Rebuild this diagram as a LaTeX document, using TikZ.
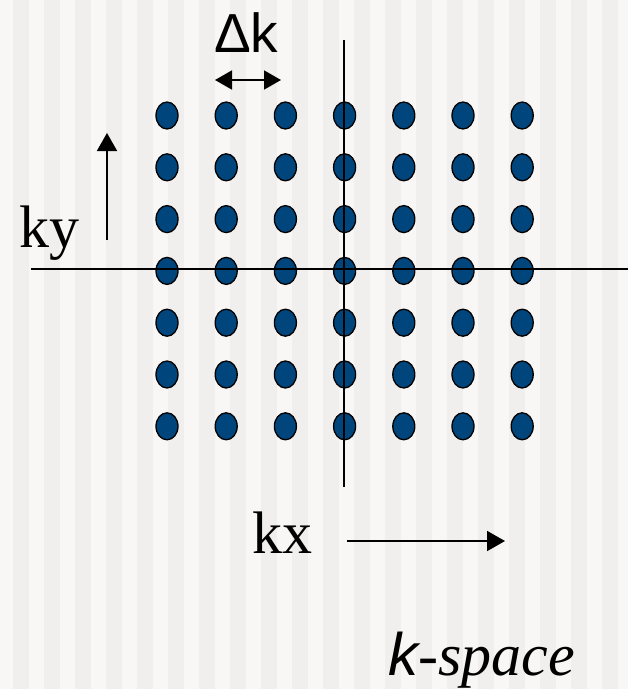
\documentclass[tikz,border=0pt]{standalone}
\usepackage{fontspec}
\setmainfont{Liberation Serif}
\newfontfamily\sansf{Liberation Sans}
\newfontfamily\serif{Liberation Serif}
\usetikzlibrary{shapes.geometric,arrows.meta}
\definecolor{stripelight}{RGB}{248,247,245}
\definecolor{stripedark}{RGB}{240,239,237}
\definecolor{dotblue}{RGB}{0,69,124}
\tikzset{
  sample/.style={ellipse,draw=black,line width=1.3pt,fill=dotblue,
    minimum width=22pt,minimum height=27pt,inner sep=0pt},
  axisline/.style={line width=1.8pt,black},
  pointer/.style={line width=1.8pt,black,-{Triangle[length=18pt,width=20pt]}},
  bothways/.style={line width=1.8pt,black,{Triangle[length=17pt,width=19pt]}-{Triangle[length=17pt,width=19pt]}},
  lbl/.style={inner sep=0pt,anchor=base west,font=\fontsize{60}{60}\selectfont},
}
\begin{document}
\begin{tikzpicture}[x=1pt,y=-1pt]
  % striped backdrop
  \fill[stripelight] (0,0) rectangle (628,689);
  \foreach \k in {0,...,19}
    \fill[stripedark] ({13+31*\k},0) rectangle ({29+31*\k},689);
  \useasboundingbox (0,0) rectangle (628,689);

  % sampling grid
  \foreach \i in {0,...,6}
    \foreach \j in {0,...,6}
      \node[sample] (d-\i-\j) at ({167+59.2*\i},{115.5+51.8*\j}) {};

  % axes
  \coordinate (vtop) at (344,40);
  \coordinate (vbot) at (344,487);
  \coordinate (hleft) at (31,269);
  \coordinate (hright) at (628,269);
  \draw[axisline] (vtop) -- (vbot);
  \draw[axisline] (hleft) -- (hright);

  % labels
  \node[lbl,font=\sansf\fontsize{55}{55}\selectfont] (dk) at (214,52) {Δk};
  \node[lbl] (ky) at (19,247) {ky};
  \node[lbl] (kx) at (252,553) {kx};
  \node[lbl] (ks) at (388,675) {{\sansf\itshape k}{\serif\itshape -space}};

  % direction arrows
  \coordinate (dkl) at (215,80);
  \coordinate (dkr) at (281,80);
  \draw[bothways] (dkl) -- (dkr);
  \coordinate (kyfoot) at (107,240);
  \coordinate (kytip) at (107,133);
  \draw[pointer] (kyfoot) -- (kytip);
  \coordinate (kxfoot) at (347,541);
  \coordinate (kxtip) at (505,541);
  \draw[pointer] (kxfoot) -- (kxtip);
\end{tikzpicture}
\end{document}
